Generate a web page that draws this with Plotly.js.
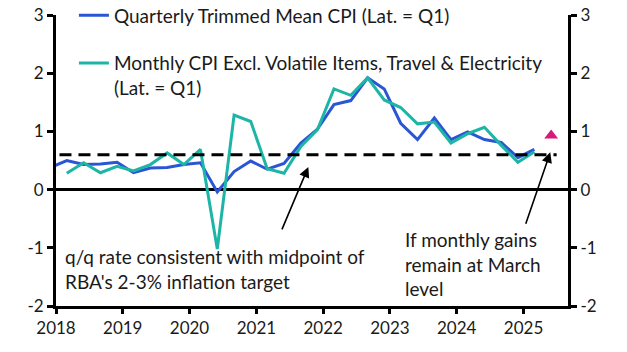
<!DOCTYPE html>
<html>
<head>
<meta charset="utf-8">
<script src="https://cdn.plot.ly/plotly-3.0.1.min.js"></script>
<style>html,body{margin:0;padding:0;background:#fff;}#chart{width:627px;height:352px;}</style>
</head>
<body>
<div id="chart"></div>
<script>
// Quarter dates (plotted at first day of quarter-end month)
const quarterDates = ["2017-12-01",
  "2018-03-01","2018-06-01","2018-09-01","2018-12-01",
  "2019-03-01","2019-06-01","2019-09-01","2019-12-01",
  "2020-03-01","2020-06-01","2020-09-01","2020-12-01",
  "2021-03-01","2021-06-01","2021-09-01","2021-12-01",
  "2022-03-01","2022-06-01","2022-09-01","2022-12-01",
  "2023-03-01","2023-06-01","2023-09-01","2023-12-01",
  "2024-03-01","2024-06-01","2024-09-01","2024-12-01",
  "2025-03-01"];
// Quarterly trimmed mean CPI, % q/q
const trimmedMean = [0.38,
  0.50,0.43,0.44,0.47,
  0.29,0.37,0.38,0.43,
  0.46,-0.04,0.31,0.49,
  0.35,0.45,0.80,1.04,
  1.46,1.53,1.92,1.73,
  1.14,0.86,1.23,0.86,
  0.99,0.86,0.81,0.55,
  0.69];
// Monthly CPI excl. volatile items, travel & electricity, % q/q
const monthlyDates = quarterDates.slice(1);
const monthlyExVol = [
  0.28,0.46,0.29,0.40,
  0.32,0.43,0.63,0.43,
  0.69,-1.02,1.28,1.17,
  0.36,0.28,0.74,1.03,
  1.73,1.62,1.92,1.54,
  1.41,1.13,1.16,0.80,
  0.96,1.07,0.76,0.47,
  0.65];
// Projection if monthly gains remain at March level
const projDate = ["2025-06-01"];
const projValue = [0.93];
// RBA target midpoint (q/q)
const targetMid = 0.6;
const targetStart = "2018-01-20";
const targetEnd = "2025-07-01";

const yTicks = [-2,-1,0,1,2,3];
const yTickText = ["-2","-1","0","1","2","3"];

const FONT = "Lato, 'Open Sans', sans-serif";
const TXT = "#1a1a1a";
const BLUE = "#2a55d4";
const TEAL = "#1db5a6";
const PINK = "#d6197a";

const traces = [
  {x: quarterDates, y: trimmedMean, type: "scatter", mode: "lines",
   name: "Quarterly Trimmed Mean CPI (Lat. = Q1)", legendgroup: "a",
   line: {color: BLUE, width: 3}},
  {x: monthlyDates, y: monthlyExVol, type: "scatter", mode: "lines",
   name: "Monthly CPI Excl. Volatile Items, Travel & Electricity<br>(Lat. = Q1)", legendgroup: "b",
   line: {color: TEAL, width: 3}},
  {x: projDate, y: projValue, type: "scatter", mode: "markers", yaxis: "y2",
   showlegend: false, marker: {symbol: "triangle-up", size: 12, color: PINK}}
];

const axisCommon = {
  range: [-2, 3], tickmode: "array", tickvals: yTicks, ticktext: yTickText,
  showgrid: false, showline: true, linecolor: "#000", linewidth: 3,
  ticks: "outside", ticklen: 6, tickwidth: 3, tickcolor: "#000",
  tickfont: {family: FONT, size: 17, color: TXT}, fixedrange: true
};

const layout = {
  width: 627, height: 352,
  margin: {l: 56, r: 59, t: 15, b: 46, autoexpand: false},
  paper_bgcolor: "#fff", plot_bgcolor: "#fff",
  font: {family: FONT, size: 17, color: TXT},
  showlegend: true,
  legend: {x: 0.035, y: 1.064, xanchor: "left", yanchor: "top", bgcolor: "rgba(0,0,0,0)",
    font: {family: FONT, size: 19, color: TXT}, valign: "top",
    traceorder: "grouped", tracegroupgap: 20},
  xaxis: {type: "date", range: ["2018-01-01", "2025-09-01"], dtick: "M12", tick0: "2018-01-01",
    tickformat: "%Y", showgrid: false, showline: true, linecolor: "#000", linewidth: 3,
    ticks: "outside", ticklen: 5, tickwidth: 3, tickcolor: "#000",
    tickfont: {family: FONT, size: 17, color: TXT}, zeroline: false},
  yaxis: Object.assign({}, axisCommon, {side: "left", zeroline: true, zerolinecolor: "#000", zerolinewidth: 3}),
  yaxis2: Object.assign({}, axisCommon, {side: "right", overlaying: "y", anchor: "x", zeroline: false}),
  shapes: [
    {type: "line", xref: "x", yref: "y", x0: targetStart, x1: targetEnd, y0: targetMid, y1: targetMid,
     line: {color: "#000", width: 3, dash: "12px,7px"}}
  ],
  annotations: [
    {xref: "x", yref: "y", x: "2021-10-12", y: 0.39, ax: -27, ay: 64, text: "",
     showarrow: true, arrowhead: 2, arrowsize: 1.3, arrowwidth: 1.6, arrowcolor: "#000"},
    {xref: "x", yref: "y", x: "2025-05-27", y: 0.64, ax: -25, ay: 73, text: "",
     showarrow: true, arrowhead: 2, arrowsize: 1.3, arrowwidth: 1.6, arrowcolor: "#000"},
    {xref: "x", yref: "y", x: "2018-02-10", y: -1.36, xanchor: "left", yanchor: "middle", align: "left",
     text: "q/q rate consistent with midpoint of<br>RBA's 2-3% inflation target", showarrow: false,
     font: {family: FONT, size: 19, color: TXT}},
    {xref: "x", yref: "y", x: "2023-03-12", y: -1.27, xanchor: "left", yanchor: "middle", align: "left",
     text: "If monthly gains<br>remain at March<br>level", showarrow: false,
     font: {family: FONT, size: 19, color: TXT}}
  ]
};

Plotly.newPlot("chart", traces, layout, {staticPlot: true, displayModeBar: false});
</script>
</body>
</html>
